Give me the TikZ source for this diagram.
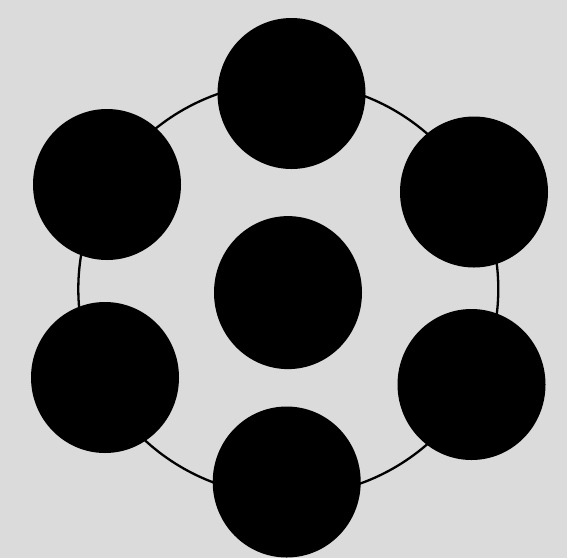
\documentclass[tikz,border=0pt]{standalone}
\usetikzlibrary{shapes.geometric}
\definecolor{paper}{gray}{0.86}
\tikzset{
  disk/.style={ellipse, fill=black, inner sep=0pt, minimum width=148pt, minimum height=151pt},
  ring/.style={ellipse, draw=black, line width=2.3pt, inner sep=0pt, minimum width=420pt, minimum height=414pt}
}
\begin{document}
\begin{tikzpicture}[x=1pt,y=-1pt]
\fill[paper] (0,0) rectangle (567,558);
\useasboundingbox (0,0) rectangle (567,558);
\node[ring] (ring) at (288.3,289) {};
\node[disk] (top) at (291.5,93.5) {};
\node[disk] (ul) at (107,184.5) {};
\node[disk] (ur) at (474,192) {};
\node[disk] (ll) at (105,377.5) {};
\node[disk] (lr) at (471.5,384.5) {};
\node[disk] (bot) at (286.7,482) {};
\node[disk, minimum height=153pt] (mid) at (288,292.6) {};
\end{tikzpicture}
\end{document}
